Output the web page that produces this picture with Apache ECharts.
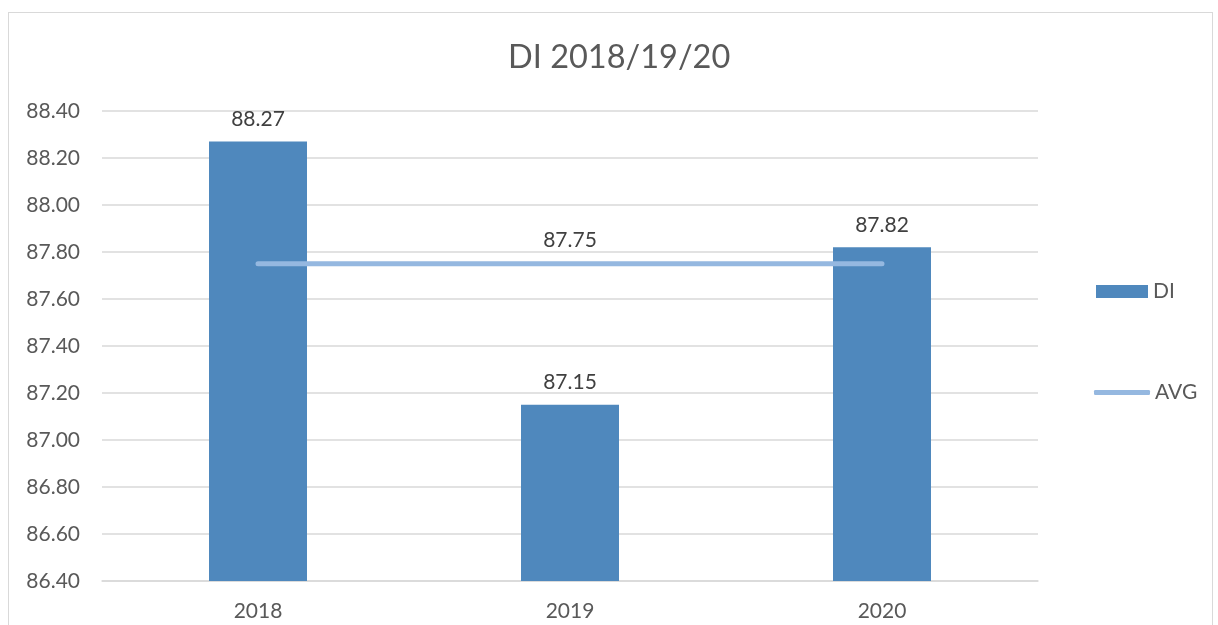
<!DOCTYPE html>
<html>
<head>
<meta charset="utf-8">
<script src="https://cdn.jsdelivr.net/npm/echarts@6/dist/echarts.min.js"></script>
<style>
html, body { margin: 0; padding: 0; background: #fff; }
#frame { position: absolute; left: 8px; top: 12px; width: 1205px; height: 640px; border: 1px solid #d9d9d9; box-sizing: border-box; }
#main { position: absolute; left: 0; top: 0; width: 1218px; height: 625px; }
</style>
</head>
<body>
<div id="frame"></div>
<div id="main"></div>
<script>
// data
var years = ['2018', '2019', '2020'];
var diValues = [88.27, 87.15, 87.82];
var avgValues = [87.75, 87.75, 87.75];

var font = 'Lato, "Open Sans", sans-serif';
var myChart = echarts.init(document.getElementById('main'));
option = {
	animation: false,
	title: {
		text: 'DI 2018/19/20',
		left: 503,
		top: 36,
		textStyle: { fontFamily: font, fontSize: 32.5, fontWeight: 'normal', color: '#595959' }
	},
	legend: [{
		left: 1091,
		top: 276,
		itemWidth: 52,
		itemHeight: 13,
		data: [{ name: 'DI', icon: 'rect' }],
		textStyle: { fontFamily: font, fontSize: 21, color: '#595959' }
	}, {
		left: 1089,
		top: 377,
		itemWidth: 56,
		itemHeight: 5,
		data: [{ name: 'AVG', icon: 'roundRect' }],
		textStyle: { fontFamily: font, fontSize: 21, color: '#595959' }
	}],
	grid: {
		left: 102,
		right: 180,
		top: 111,
		bottom: 44
	},
	xAxis: {
		type: 'category',
		data: years,
		axisTick: { show: false },
		axisLine: { lineStyle: { color: '#d9d9d9', width: 1.5 } },
		axisLabel: { margin: 20, fontFamily: font, fontSize: 21, color: '#595959' }
	},
	yAxis: {
		type: 'value',
		min: 86.4,
		max: 88.4,
		interval: 0.2,
		axisLine: { show: false },
		axisTick: { show: false },
		splitLine: { lineStyle: { color: '#d9d9d9', width: 1.5 } },
		axisLabel: {
			margin: 22,
			fontFamily: font, fontSize: 21, color: '#595959',
			formatter: function (v) { return v.toFixed(2); }
		}
	},
	series: [{
		name: 'DI',
		type: 'bar',
		barWidth: 98,
		data: diValues,
		itemStyle: { color: '#4f88bd' },
		label: {
			show: true,
			position: 'top',
			distance: 12,
			fontFamily: font, fontSize: 21, color: '#404040',
			formatter: function (p) { return p.value.toFixed(2); }
		}
	}, {
		name: 'AVG',
		type: 'line',
		data: avgValues,
		symbol: 'circle',
		symbolSize: 0,
		showSymbol: true,
		lineStyle: { color: '#95b8e0', width: 5, cap: 'round' },
		itemStyle: { color: '#95b8e0' },
		label: {
			show: true,
			position: 'top',
			distance: 13,
			fontFamily: font, fontSize: 21, color: '#404040',
			formatter: function (p) { return p.dataIndex === 1 ? p.value.toFixed(2) : ''; }
		}
	}]
};
myChart.setOption(option);
</script>
</body>
</html>
